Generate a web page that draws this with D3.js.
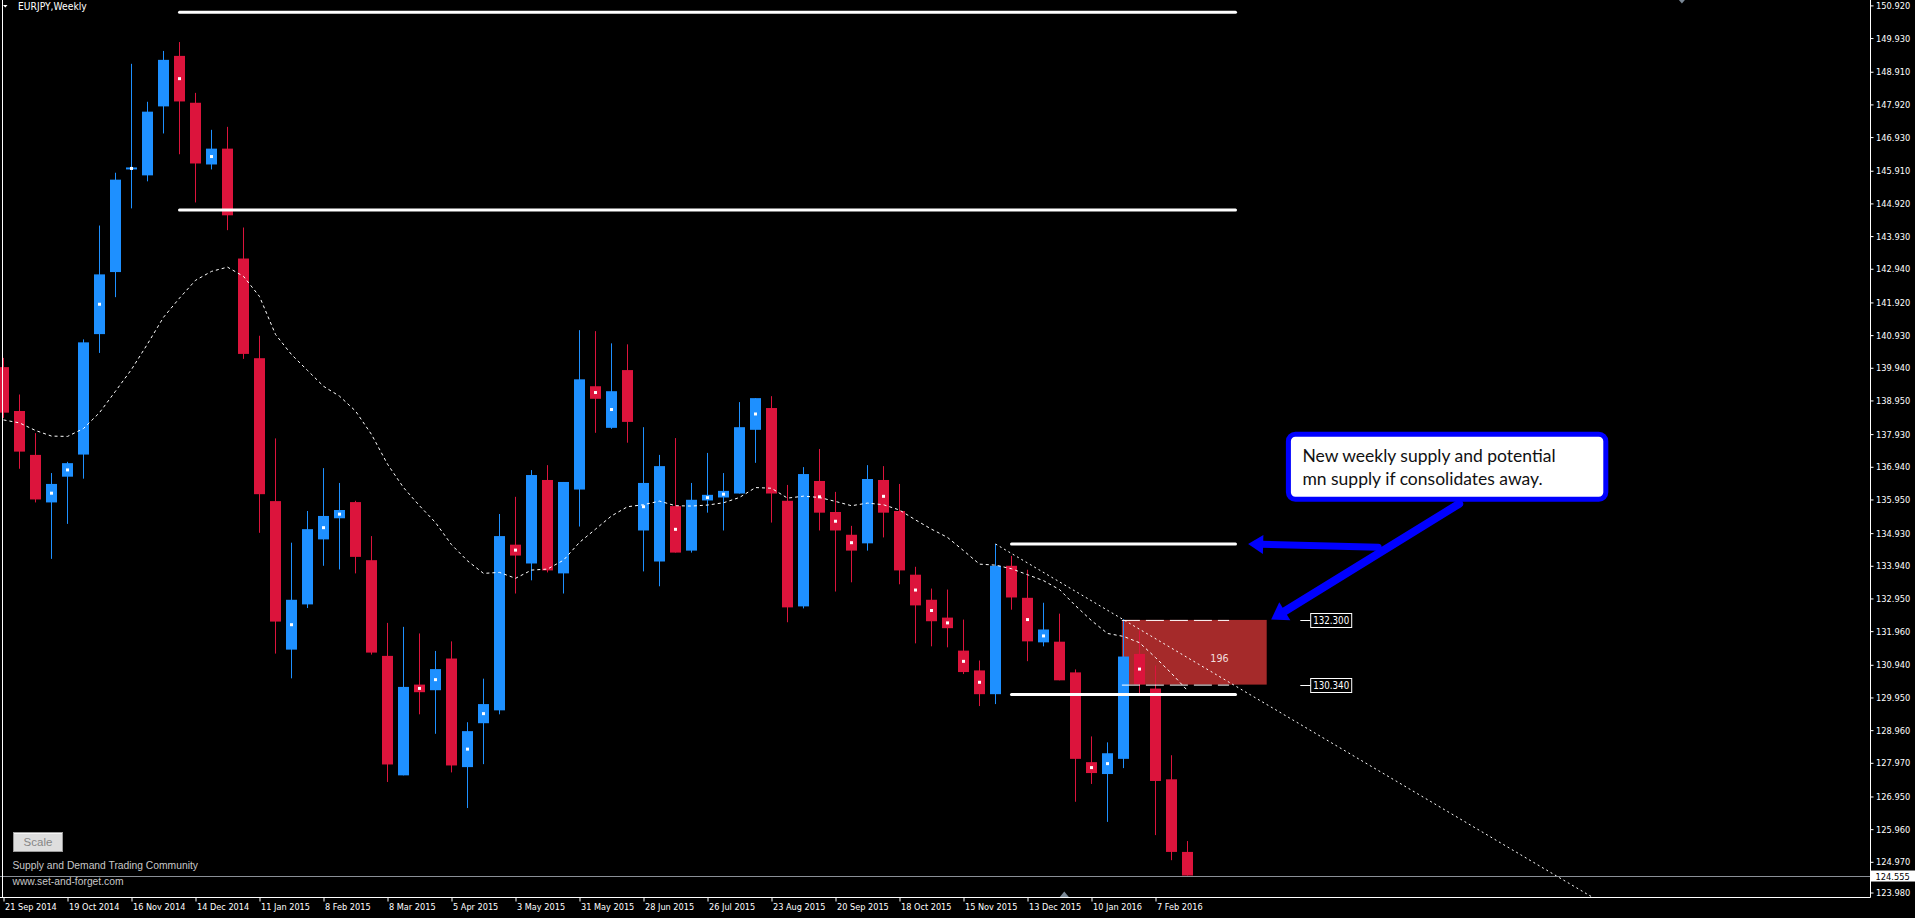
<!DOCTYPE html>
<html><head><meta charset="utf-8">
<script src="https://cdn.jsdelivr.net/npm/d3@7"></script>
<style>html,body{margin:0;padding:0;background:#000;overflow:hidden}</style>
</head><body>
<svg id="c" width="1915" height="918"></svg>
<script>
// ---------------- DATA ----------------
const symbolTitle = "EURJPY,Weekly";
const firstWeek = "21 Sep 2014";
const openP  = [139.96,138.63,137.30,135.86,136.64,137.31,140.96,142.84,145.95,145.77,147.86,149.39,147.97,146.10,146.58,143.25,140.23,135.90,131.40,132.77,134.74,135.38,135.87,134.11,131.21,127.59,130.34,130.17,131.13,127.84,129.17,129.56,134.58,134.01,136.54,133.71,136.25,139.38,138.12,139.87,135.01,134.07,135.75,134.40,135.92,136.01,136.13,138.06,138.72,135.91,132.71,136.51,135.57,134.88,134.62,136.54,135.60,133.67,132.91,132.37,131.37,130.77,130.05,133.94,132.97,131.62,131.64,130.71,127.99,127.63,128.09,131.27,130.22,127.47,125.27];
const highP  = [140.24,139.13,137.96,136.75,137.09,140.80,144.25,145.85,149.15,148.00,149.54,149.81,148.27,147.15,147.24,144.19,140.91,137.80,134.64,135.60,136.90,136.45,135.91,134.84,132.21,132.09,131.89,131.36,131.65,129.20,130.52,135.51,136.03,136.84,136.99,136.48,141.08,141.05,140.68,140.65,138.14,137.30,137.81,136.45,137.36,136.75,138.90,139.02,139.08,136.39,136.93,137.48,136.18,135.15,136.99,136.96,136.42,133.91,133.25,133.22,132.31,131.07,134.60,134.24,133.82,132.82,132.49,130.80,128.77,128.59,132.32,131.98,130.92,128.20,125.60];
const lowP   = [138.42,136.88,135.86,134.15,135.21,136.58,140.39,142.08,144.77,145.59,147.04,146.41,144.95,145.95,144.11,140.21,134.94,131.28,130.53,132.66,133.94,133.83,133.71,131.25,127.39,127.59,129.44,128.85,127.68,126.60,127.93,129.44,133.10,133.50,133.74,133.10,135.13,137.97,138.09,137.67,133.77,133.32,134.34,134.34,135.55,135.01,136.13,137.06,135.25,132.23,132.65,135.01,133.16,133.44,134.40,134.80,133.38,131.59,131.50,131.47,130.66,129.69,129.75,132.61,131.05,131.50,130.47,126.79,127.33,126.18,127.81,130.07,125.78,125.02,124.555];
const closeP = [138.58,137.40,135.95,136.42,137.05,140.71,142.77,145.64,146.01,147.70,149.27,148.01,146.13,146.58,144.56,140.36,136.11,132.25,132.91,135.05,135.45,135.63,134.21,131.31,127.92,130.27,130.11,130.81,127.89,128.93,129.75,134.84,134.25,136.69,133.80,136.48,139.59,139.00,139.23,138.30,136.45,136.96,134.34,135.94,136.09,136.21,138.14,139.02,136.13,132.68,136.72,135.55,135.01,134.40,136.57,135.55,133.80,132.74,132.26,132.05,130.72,130.05,133.94,132.98,131.65,132.01,130.47,128.09,127.66,128.26,131.19,130.35,127.42,125.27,124.555];
const maP    = [138.36,138.27,138.04,137.87,137.86,138.10,138.58,139.23,139.89,140.66,141.47,142.05,142.59,142.86,142.99,142.71,142.10,140.95,140.34,139.86,139.38,139.08,138.63,137.92,137.02,136.31,135.76,135.25,134.58,134.09,133.71,133.74,133.56,133.81,133.84,134.11,134.65,135.05,135.45,135.73,135.79,135.90,135.76,135.75,135.78,135.85,136.01,136.31,136.29,135.99,136.05,136.01,135.89,135.76,135.84,135.79,135.63,135.33,135.05,134.80,134.40,133.99,133.96,133.85,133.67,133.49,133.22,132.73,132.28,131.89,131.80,131.61,131.16,130.68,130.16];
const markerIdx = [3,4,6,8,11,13,18,20,21,26,27,29,30,32,37,38,40,42,44,45,47,51,52,53,55,57,58,59,60,61,64,65,68,69,71];
const dateTicks = ["21 Sep 2014","19 Oct 2014","16 Nov 2014","14 Dec 2014","11 Jan 2015","8 Feb 2015","8 Mar 2015","5 Apr 2015","3 May 2015","31 May 2015","28 Jun 2015","26 Jul 2015","23 Aug 2015","20 Sep 2015","18 Oct 2015","15 Nov 2015","13 Dec 2015","10 Jan 2016","7 Feb 2016"];
const priceTicks = [150.920,149.930,148.910,147.920,146.930,145.910,144.920,143.930,142.940,141.920,140.930,139.940,138.950,137.930,136.940,135.950,134.930,133.940,132.950,131.960,130.940,129.950,128.960,127.970,126.950,125.960,124.970,123.980];
const lastPrice = 124.555;
// horizontal levels: price, from week index, to week index
const levelPrices = [150.71, 144.72, 134.60, 130.04];
const levelFrom   = [11, 11, 63, 63];
const levelTo     = [77, 77, 77, 77];
// supply zone
const zoneTop = 132.300, zoneBottom = 130.340, zoneFrom = 69.9, zoneTo = 78.95, zoneText = "196";
// trend line (week index, price)
const trendA = [62, 134.60], trendB = [99.3, 123.90];
const noteLines = ["New weekly supply and potential", "mn supply if consolidates away."];
const footer1 = "Supply and Demand Trading Community", footer2 = "www.set-and-forget.com";

// ---------------- SETUP ----------------
const W = 1915, H = 918, PR = 1870, PB = 897;
const svg = d3.select("#c");
svg.append("rect").attr("width", W).attr("height", H).attr("fill", "#000");
const FONT = "'Liberation Sans', Arial, sans-serif";
const TFONT = "'DejaVu Sans', Verdana, sans-serif";
const BLUE = "#1E90FF", RED = "#DC143C";

const parse = d3.utcParse("%d %b %Y");
const t0 = parse(firstWeek);
const WEEK = 7 * 864e5;
const dateAt = i => new Date(t0.getTime() + i * WEEK);
const x = d3.scaleUtc().domain([t0, dateAt(1)]).range([3.5, 19.5]);
const xi = i => x(dateAt(i));
const y = d3.scaleLinear().domain([123.98, 150.92]).range([894.5, 5.4]);

svg.append("clipPath").attr("id", "plot").append("rect").attr("x", 0).attr("y", 0).attr("width", PR).attr("height", PB);
const plot = svg.append("g").attr("clip-path", "url(#plot)");

function squeeze(sel, f) {
  sel.each(function () {
    const w = this.getComputedTextLength();
    d3.select(this).attr("textLength", w * f).attr("lengthAdjust", "spacingAndGlyphs");
  });
}

// ---------------- ZONE (background) ----------------
plot.append("rect")
  .attr("x", xi(zoneFrom)).attr("width", xi(zoneTo) - xi(zoneFrom))
  .attr("y", y(zoneTop)).attr("height", y(zoneBottom) - y(zoneTop))
  .attr("fill", "#A52A2A");

// ---------------- CANDLES ----------------
const candles = openP.map((o, i) => ({ i, o, h: highP[i], l: lowP[i], c: closeP[i] }));
const cg = plot.append("g");
cg.selectAll("rect.wick").data(candles).join("rect").attr("class", "wick")
  .attr("x", d => xi(d.i) - 0.5).attr("width", 1)
  .attr("y", d => y(d.h)).attr("height", d => Math.max(1, y(d.l) - y(d.h)))
  .attr("fill", d => d.c >= d.o ? BLUE : RED);
cg.selectAll("rect.body").data(candles).join("rect").attr("class", "body")
  .attr("x", d => xi(d.i) - 5.5).attr("width", 11)
  .attr("y", d => y(Math.max(d.o, d.c))).attr("height", d => Math.max(1, Math.abs(y(d.o) - y(d.c))))
  .attr("fill", d => d.c >= d.o ? BLUE : RED);
cg.selectAll("rect.mk").data(markerIdx).join("rect").attr("class", "mk")
  .attr("x", i => xi(i) - 1.5).attr("width", 3)
  .attr("y", i => y((openP[i] + closeP[i]) / 2) - 1.5).attr("height", 3)
  .attr("fill", "#fff");

// ---------------- MA ----------------
plot.append("path").datum(maP)
  .attr("d", d3.line().x((d, i) => xi(i)).y(d => y(d)))
  .attr("fill", "none").attr("stroke", "#fff").attr("stroke-width", 1).attr("stroke-dasharray", "3,3");

// ---------------- TREND LINE ----------------
plot.append("line")
  .attr("x1", xi(trendA[0])).attr("y1", y(trendA[1]))
  .attr("x2", xi(trendB[0])).attr("y2", y(trendB[1]))
  .attr("stroke", "#fff").attr("stroke-width", 1).attr("stroke-dasharray", "2,3");

// ---------------- LEVEL LINES ----------------
plot.selectAll("line.lvl").data(levelPrices).join("line").attr("class", "lvl")
  .attr("x1", (p, k) => xi(levelFrom[k])).attr("x2", (p, k) => xi(levelTo[k]))
  .attr("y1", p => y(p)).attr("y2", p => y(p))
  .attr("stroke", "#fff").attr("stroke-width", 3).attr("stroke-linecap", "round");

// zone dashed borders + text
[zoneTop, zoneBottom].forEach(p => {
  plot.append("line").attr("x1", xi(zoneFrom)).attr("x2", xi(76.6))
    .attr("y1", y(p) + 0.5).attr("y2", y(p) + 0.5)
    .attr("stroke", "#fff").attr("stroke-width", 1).attr("stroke-dasharray", "18,6");
});
plot.append("text").attr("x", xi(76)).attr("y", (y(zoneTop) + y(zoneBottom)) / 2 + 10)
  .attr("text-anchor", "middle").attr("fill", "#f2dede").attr("font-family", TFONT).attr("font-size", 11)
  .text(zoneText).call(squeeze, 0.87);

// price tags of the zone
[zoneTop, zoneBottom].forEach(p => {
  const yy = Math.round(y(p)) + 0.5;
  svg.append("line").attr("x1", xi(81.05)).attr("x2", xi(81.7)).attr("y1", yy).attr("y2", yy).attr("stroke", "#fff");
  svg.append("rect").attr("x", xi(81.7)).attr("y", yy - 7).attr("width", 41).attr("height", 14)
    .attr("fill", "#000").attr("stroke", "#fff").attr("stroke-width", 1);
  svg.append("text").attr("x", xi(81.7) + 2.5).attr("y", yy + 3.8).attr("fill", "#fff")
    .attr("font-family", TFONT).attr("font-size", 10).text(d3.format(".3f")(p)).call(squeeze, 0.87);
});

// ---------------- BID LINE ----------------
svg.append("line").attr("x1", 0).attr("x2", PR).attr("y1", Math.round(y(lastPrice)) + 0.5).attr("y2", Math.round(y(lastPrice)) + 0.5)
  .attr("stroke", "#8a8f96").attr("stroke-width", 1);

// ---------------- FRAME ----------------
svg.append("line").attr("x1", 2.5).attr("x2", 2.5).attr("y1", 0).attr("y2", PB).attr("stroke", "#fff");
svg.append("line").attr("x1", 0).attr("x2", PR + 0.5).attr("y1", PB + 0.5).attr("y2", PB + 0.5).attr("stroke", "#fff");
svg.append("line").attr("x1", PR + 0.5).attr("x2", PR + 0.5).attr("y1", 0).attr("y2", PB + 0.5).attr("stroke", "#fff");

// ---------------- Y AXIS ----------------
const ya = svg.append("g").attr("transform", `translate(${PR + 0.5},0)`)
  .call(d3.axisRight(y).tickValues(priceTicks).tickFormat(d3.format(".3f")).tickSize(3).tickSizeOuter(0));
ya.select(".domain").remove();
ya.selectAll(".tick line").attr("stroke", "#fff");
ya.selectAll(".tick text").attr("fill", "#fff").attr("font-family", TFONT).attr("font-size", 9.5).attr("x", 5.5)
  .call(squeeze, 0.87);
ya.selectAll(".tick").filter(d => d === priceTicks[priceTicks.length - 1]).attr("transform", `translate(0,${y(priceTicks[priceTicks.length - 1]) - 1.5})`);

// bid label
const by = y(lastPrice);
svg.append("rect").attr("x", PR + 1).attr("y", by - 5).attr("width", W - PR - 1).attr("height", 11).attr("fill", "#fff");
svg.append("text").attr("x", PR + 5.5).attr("y", by + 4).attr("fill", "#000").attr("font-family", TFONT).attr("font-size", 9.5)
  .text(d3.format(".3f")(lastPrice)).call(squeeze, 0.87);

// ---------------- X AXIS ----------------
const xa = svg.append("g").attr("transform", `translate(0,${PB + 0.5})`)
  .call(d3.axisBottom(x).tickValues(dateTicks.map(parse)).tickFormat(d3.utcFormat("%-d %b %Y")).tickSize(4).tickSizeOuter(0));
xa.select(".domain").remove();
xa.selectAll(".tick line").attr("stroke", "#fff");
xa.selectAll(".tick text").attr("fill", "#fff").attr("font-family", TFONT).attr("font-size", 9.5)
  .attr("text-anchor", "start").attr("x", 1).attr("y", 6).attr("dy", "0.71em").call(squeeze, 0.86);

// shift markers
const mkx = xi(66.3);
svg.append("path").attr("d", `M${mkx - 4.5},${PB} L${mkx + 4.5},${PB} L${mkx},${PB - 5.5} Z`).attr("fill", "#7a8896");
const mkt = xi(104.9);
svg.append("path").attr("d", `M${mkt - 3},0 L${mkt + 3},0 L${mkt},3.5 Z`).attr("fill", "#7a8896");

// ---------------- TITLE ----------------
svg.append("path").attr("d", "M3,5 L7.5,5 L5.25,7.5 Z").attr("fill", "#fff");
svg.append("text").attr("x", 18).attr("y", 10).attr("fill", "#fff").attr("font-family", TFONT).attr("font-size", 10)
  .text(symbolTitle).call(squeeze, 0.92);

// ---------------- FOOTER ----------------
const btn = svg.append("g");
btn.append("rect").attr("x", 13.5).attr("y", 832.5).attr("width", 49).attr("height", 19).attr("fill", "#dedede").attr("stroke", "#9a9a9a");
btn.append("line").attr("x1", 14).attr("x2", 62).attr("y1", 833.5).attr("y2", 833.5).attr("stroke", "#f6f6f6");
btn.append("text").attr("x", 38).attr("y", 846).attr("text-anchor", "middle").attr("fill", "#868686")
  .attr("font-family", FONT).attr("font-size", 11.5).text("Scale");
svg.append("text").attr("x", 12.5).attr("y", 869).attr("fill", "#c8c8c8").attr("font-family", FONT).attr("font-size", 10.3).text(footer1);
svg.append("text").attr("x", 12.5).attr("y", 885).attr("fill", "#c8c8c8").attr("font-family", FONT).attr("font-size", 10.3).text(footer2);

// ---------------- ARROWS ----------------
function arrow(s, t, headLen, headHalf, w) {
  const x1 = xi(s[0]), y1 = y(s[1]), x2 = xi(t[0]), y2 = y(t[1]);
  const dx = x2 - x1, dy = y2 - y1, L = Math.hypot(dx, dy), ux = dx / L, uy = dy / L;
  const bx = x2 - ux * headLen, byy = y2 - uy * headLen;
  svg.append("line").attr("x1", x1).attr("y1", y1).attr("x2", bx + ux * 2).attr("y2", byy + uy * 2)
    .attr("stroke", "#0000FF").attr("stroke-width", w).attr("stroke-linecap", "round");
  svg.append("path").attr("d", `M${x2},${y2} L${bx - uy * headHalf},${byy + ux * headHalf} L${bx + uy * headHalf},${byy - ux * headHalf} Z`)
    .attr("fill", "#0000FF");
}
arrow([85.92, 134.50], [77.79, 134.60], 15, 9.5, 7);
arrow([90.98, 135.82], [79.23, 132.31], 16, 10.5, 8);

// ---------------- NOTE BOX ----------------
const nx0 = xi(80.15), nx1 = xi(100.3), ny0 = y(138.00), ny1 = y(135.88);
svg.append("rect").attr("x", nx0 + 2.5).attr("y", ny0 + 2.5).attr("width", nx1 - nx0 - 5).attr("height", ny1 - ny0 - 5)
  .attr("rx", 7).attr("fill", "#fff").attr("stroke", "#0000FF").attr("stroke-width", 5);
svg.selectAll("text.note").data(noteLines).join("text").attr("class", "note")
  .attr("x", nx0 + 16.5).attr("y", (d, k) => ny0 + 30 + k * 23.5)
  .attr("fill", "#111").attr("font-family", "Lato, 'Open Sans', sans-serif").attr("font-size", 17.5)
  .text(d => d);
</script>
</body></html>
